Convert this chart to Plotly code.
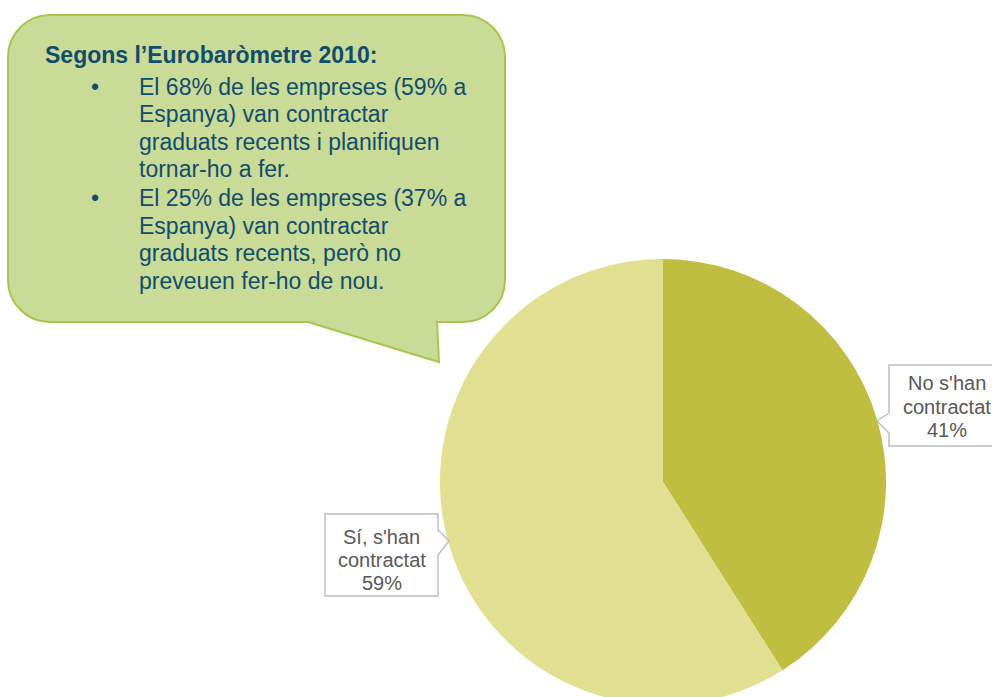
import plotly.graph_objects as go

# ---- data ----
labels = ["No s'han contractat", "Sí, s'han contractat"]
values = [41, 59]
colors = ["#BFBE40", "#E1DF92"]

heading = "Segons l’Eurobaròmetre 2010:"
bullet1 = ["El 68% de les empreses (59% a", "Espanya) van contractar",
           "graduats recents i planifiquen", "tornar-ho a fer."]
bullet2 = ["El 25% de les empreses (37% a", "Espanya) van contractar",
           "graduats recents, però no", "preveuen fer-ho de nou."]

W, H = 992, 705
FONT = "Liberation Sans, Arial, sans-serif"
TEXT_BLUE = "#0F4D6C"
GREY = "#595959"


def px(x):
    return x / W


def py(y):
    return 1 - y / H


def P(x, y):
    return f"{px(x):.5f},{py(y):.5f}"


fig = go.Figure()
fig.add_trace(go.Pie(
    labels=labels, values=values, sort=False, direction="clockwise", rotation=0,
    marker=dict(colors=colors, line=dict(width=0)),
    textinfo="none", hoverinfo="label+percent",
    domain=dict(x=[px(440), px(886)], y=[py(705), py(259)]),
))

shapes = []
# speech bubble
x0, y0, x1, y1, r = 8, 15, 505, 322, 42
k = r * 0.5523
path = (
    f"M {P(x0 + r, y0)} L {P(x1 - r, y0)} "
    f"C {P(x1 - r + k, y0)} {P(x1, y0 + r - k)} {P(x1, y0 + r)} "
    f"L {P(x1, y1 - r)} "
    f"C {P(x1, y1 - r + k)} {P(x1 - r + k, y1)} {P(x1 - r, y1)} "
    f"L {P(437, y1)} L {P(439, 362)} L {P(308, y1)} "
    f"L {P(x0 + r, y1)} "
    f"C {P(x0 + r - k, y1)} {P(x0, y1 - r + k)} {P(x0, y1 - r)} "
    f"L {P(x0, y0 + r)} "
    f"C {P(x0, y0 + r - k)} {P(x0 + r - k, y0)} {P(x0 + r, y0)} Z"
)
shapes.append(dict(type="path", xref="paper", yref="paper", path=path,
                   fillcolor="#CADA97", line=dict(color="#A6C64E", width=2)))

# label callout boxes
rb = (f"M {P(889, 365)} L {P(1005, 365)} L {P(1005, 446)} L {P(889, 446)} "
      f"L {P(889, 433)} L {P(877, 421)} L {P(889, 413)} Z")
lb = (f"M {P(325, 514)} L {P(438, 514)} L {P(438, 530)} L {P(449, 541)} "
      f"L {P(438, 555)} L {P(438, 596)} L {P(325, 596)} Z")
for pth in (rb, lb):
    shapes.append(dict(type="path", xref="paper", yref="paper", path=pth,
                       fillcolor="white", line=dict(color="#BFBFBF", width=1.5)))

ann = []


def text(x, y, t, size, color, xanchor="left", bold=False):
    if bold:
        t = f"<b>{t}</b>"
    ann.append(dict(x=px(x), y=py(y), xref="paper", yref="paper", text=t,
                    showarrow=False, xanchor=xanchor, yanchor="middle",
                    font=dict(family=FONT, size=size, color=color)))


text(43, 55, heading, 23, TEXT_BLUE, bold=True)
ys1 = [87, 114.5, 142, 169.5]
ys2 = [198, 225.5, 253, 280.5]
for lines, ys in ((bullet1, ys1), (bullet2, ys2)):
    text(95, ys[0], "•", 23, TEXT_BLUE, xanchor="center")
    for line, yy in zip(lines, ys):
        text(137, yy, line, 23, TEXT_BLUE)

# pie labels
label_pos = [(947, [383, 407, 430]), (381.5, [537, 560, 583])]
for lab, val, (cx, ys) in zip(labels, values, label_pos):
    a, b = lab.rsplit(" ", 1)
    for t, yy in zip([a, b, f"{val}%"], ys):
        text(cx, yy, t, 20, GREY, xanchor="center")

fig.update_layout(
    width=W, height=H, margin=dict(l=0, r=0, t=0, b=0, pad=0),
    paper_bgcolor="white", plot_bgcolor="white", showlegend=False,
    shapes=shapes, annotations=ann,
)

fig.write_html(
    "out.html",
    config={"displayModeBar": False},
    post_script="document.body.style.margin='0';document.body.style.overflow='hidden';"
                "document.documentElement.style.overflow='hidden';",
)
